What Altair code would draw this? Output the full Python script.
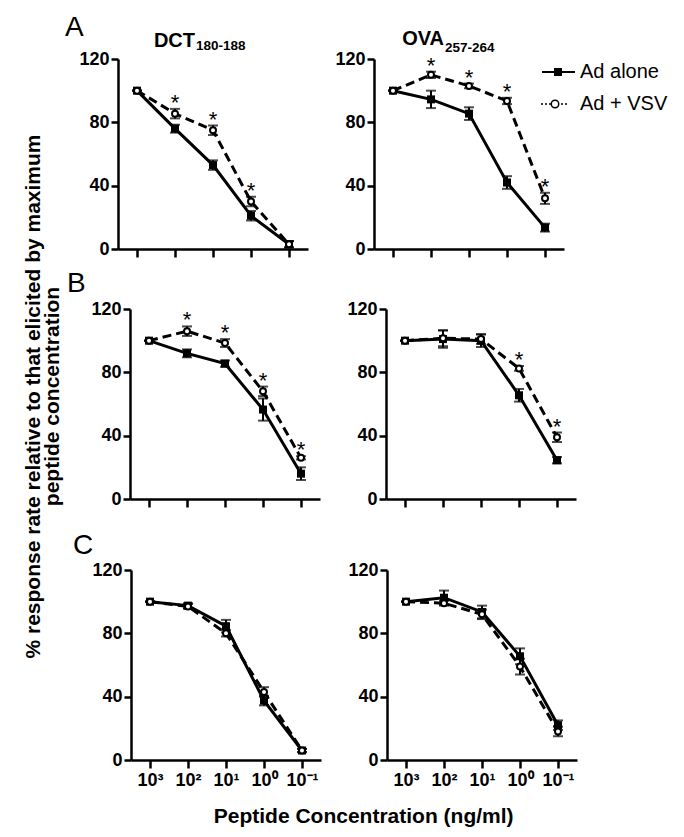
import json
import altair as alt
import pandas as pd

# ---------------- data ----------------
x_labels = ["10³", "10²", "10¹", "10⁰", "10⁻¹"]
x_index = [0, 1, 2, 3, 4]
series_names = ["Ad alone", "Ad + VSV"]

a_dct_alone = [100, 76, 53, 21, 3]
a_dct_alone_err = [0, 2.5, 3, 3, 2]
a_dct_vsv = [100, 85.5, 75, 30, 3]
a_dct_vsv_err = [0, 3, 3, 3, 2]
a_dct_star = [0, 1, 1, 1, 0]

a_ova_alone = [100, 94.5, 85.5, 42, 13.5]
a_ova_alone_err = [0, 5.5, 4, 4, 2.5]
a_ova_vsv = [100, 110, 103, 93.5, 32]
a_ova_vsv_err = [0, 2, 1.5, 2, 3.5]
a_ova_star = [0, 1, 1, 1, 1]

b_dct_alone = [100, 92, 85.5, 56.5, 16]
b_dct_alone_err = [0, 2.5, 2, 7, 4]
b_dct_vsv = [100, 106, 98.5, 68, 26]
b_dct_vsv_err = [0, 3, 2.5, 3, 1]
b_dct_star = [0, 1, 1, 1, 1]

b_ova_alone = [100, 101, 100, 65.5, 24.5]
b_ova_alone_err = [0, 5.5, 4, 4, 2]
b_ova_vsv = [100, 101.5, 101, 82.5, 39]
b_ova_vsv_err = [0, 5, 3, 1.5, 3]
b_ova_star = [0, 0, 0, 1, 1]

c_dct_alone = [100, 97.5, 84.5, 37.5, 6]
c_dct_alone_err = [0, 1.5, 4, 3, 1]
c_dct_vsv = [100, 97, 80, 43, 6]
c_dct_vsv_err = [0, 1.5, 2, 3, 1]
c_dct_star = [0, 0, 0, 0, 0]

c_ova_alone = [100, 102.5, 93.5, 65.5, 22]
c_ova_alone_err = [0, 4.5, 4, 5, 3]
c_ova_vsv = [100, 99, 92, 59, 18]
c_ova_vsv_err = [0, 1.5, 3, 5, 3]
c_ova_star = [0, 0, 0, 0, 0]

panel_data = {
    "A_DCT": (a_dct_alone, a_dct_alone_err, a_dct_vsv, a_dct_vsv_err, a_dct_star),
    "A_OVA": (a_ova_alone, a_ova_alone_err, a_ova_vsv, a_ova_vsv_err, a_ova_star),
    "B_DCT": (b_dct_alone, b_dct_alone_err, b_dct_vsv, b_dct_vsv_err, b_dct_star),
    "B_OVA": (b_ova_alone, b_ova_alone_err, b_ova_vsv, b_ova_vsv_err, b_ova_star),
    "C_DCT": (c_dct_alone, c_dct_alone_err, c_dct_vsv, c_dct_vsv_err, c_dct_star),
    "C_OVA": (c_ova_alone, c_ova_alone_err, c_ova_vsv, c_ova_vsv_err, c_ova_star),
}

rows = []
for key, (al, ale, vs, vse, st) in panel_data.items():
    for i in x_index:
        rows.append(dict(panel=key, series="Ad alone", x=i, y=al[i], lo=al[i] - ale[i], hi=al[i] + ale[i], star=0))
        rows.append(dict(panel=key, series="Ad + VSV", x=i, y=vs[i], lo=vs[i] - vse[i], hi=vs[i] + vse[i], star=st[i]))
df = pd.DataFrame(rows)

FONT = "Liberation Sans"
W = 190
H = 190
label_expr = json.dumps(x_labels, ensure_ascii=False) + "[datum.value]"


def panel(key, show_xlabels, letter=None, title=None, legend=False, shift=0, anchor=None):
    d = df[df.panel == key]
    base = alt.Chart(d)
    width = W + shift

    def X():
        return alt.X("x:Q", scale=alt.Scale(domain=[-0.5, 4.5], nice=False, zero=False,
                                            range=[shift, width]),
                     axis=alt.Axis(values=x_index, labels=show_xlabels, labelExpr=label_expr,
                                   title=None, tickSize=8))

    def Y(field):
        return alt.Y(f"{field}:Q", scale=alt.Scale(domain=[0, 120], nice=False),
                     axis=alt.Axis(values=[0, 40, 80, 120], title=None, tickSize=7, offset=-shift))

    alone = base.transform_filter(alt.datum.series == "Ad alone")
    vsv = base.transform_filter(alt.datum.series == "Ad + VSV")

    layers = [
        alone.mark_line(color="black", strokeWidth=3).encode(x=X(), y=Y("y")),
        vsv.mark_line(color="black", strokeWidth=3, strokeDash=[9, 5]).encode(x=X(), y=Y("y")),
        base.mark_rule(color="black", strokeWidth=2).encode(x=X(), y=Y("lo"), y2="hi:Q"),
        base.mark_tick(color="black", orient="horizontal", size=10, thickness=2).encode(x=X(), y=Y("hi")),
        base.mark_tick(color="black", orient="horizontal", size=10, thickness=2).encode(x=X(), y=Y("lo")),
        alone.mark_point(shape="square", filled=True, color="black", size=64, opacity=1).encode(x=X(), y=Y("y")),
        vsv.mark_point(shape="circle", filled=True, fill="white", stroke="black", strokeWidth=2,
                       size=36, opacity=1).encode(x=X(), y=Y("y")),
        vsv.transform_filter(alt.datum.star == 1).mark_text(
            text="*", fontSize=22, font=FONT, baseline="alphabetic", color="black", dy=1
        ).encode(x=X(), y=Y("hi")),
    ]

    if letter is not None:
        ltxt, lx, ly = letter
        ldf = pd.DataFrame({"t": [ltxt]})
        layers.append(alt.Chart(ldf).mark_text(align="left", baseline="alphabetic", fontSize=28,
                                               font=FONT, color="black").encode(
            text="t:N", x=alt.value(lx), y=alt.value(ly)))
        if anchor is not None:
            # invisible anchor that fixes the left edge of the figure
            layers.append(alt.Chart(ldf).mark_rule(opacity=0, strokeWidth=1).encode(
                x=alt.value(anchor), y=alt.value(0), y2=alt.value(10)))

    if title is not None:
        main, sub, xr, ym, ys = title
        tdf = pd.DataFrame({"main": [main], "sub": [sub]})
        layers.append(alt.Chart(tdf).mark_text(align="right", baseline="alphabetic", fontSize=20,
                                               fontWeight="bold", font=FONT, color="black").encode(
            text="main:N", x=alt.value(xr), y=alt.value(ym)))
        layers.append(alt.Chart(tdf).mark_text(align="left", baseline="alphabetic", fontSize=13.5,
                                               fontWeight="bold", font=FONT, color="black").encode(
            text="sub:N", x=alt.value(xr + 1), y=alt.value(ys)))

    if legend:
        l1 = pd.DataFrame({"series": [series_names[0]]})
        l2 = pd.DataFrame({"series": [series_names[1]]})
        layers += [
            alt.Chart(l1).mark_rule(color="black", strokeWidth=2).encode(
                x=alt.value(168), x2=alt.value(201), y=alt.value(13)),
            alt.Chart(l1).mark_point(shape="square", filled=True, color="black", size=64, opacity=1).encode(
                x=alt.value(184), y=alt.value(13)),
            alt.Chart(l1).mark_text(align="left", baseline="middle", fontSize=20, font=FONT,
                                    color="black").encode(text="series:N", x=alt.value(206), y=alt.value(13)),
            alt.Chart(l2).mark_rule(color="black", strokeWidth=1.5, strokeDash=[2, 2]).encode(
                x=alt.value(167), x2=alt.value(195), y=alt.value(45)),
            alt.Chart(l2).mark_point(shape="circle", filled=True, fill="white", stroke="black",
                                     strokeWidth=1.5, size=56, opacity=1).encode(
                x=alt.value(181), y=alt.value(45)),
            alt.Chart(l2).mark_text(align="left", baseline="middle", fontSize=20, font=FONT,
                                    color="black").encode(text="series:N", x=alt.value(206), y=alt.value(45)),
        ]

    return alt.layer(*layers).properties(width=width, height=H)


pA1 = panel("A_DCT", False, letter=("A", -53, -23), title=("DCT", "180-188", 77, -12, -9.5), anchor=-58)
pA2 = panel("A_OVA", False, title=("OVA", "257-264", 70, -14, -7), legend=True)
pB1 = panel("B_DCT", False, letter=("B", -51, -17), shift=12)
pB2 = panel("B_OVA", False)
pC1 = panel("C_DCT", True, letter=("C", -45, -16), shift=13)
pC2 = panel("C_OVA", True)

rowA = alt.hconcat(pA1, pA2, spacing=26)
rowB = alt.hconcat(pB1, pB2, spacing=26)
rowC = alt.hconcat(pC1, pC2, spacing=26)

topAB = alt.vconcat(rowA, rowB, spacing=11)
inner = alt.vconcat(topAB, rowC, spacing=23).properties(
    title=alt.TitleParams("Peptide Concentration (ng/ml)", orient="bottom", anchor="middle",
                          fontSize=21, fontWeight="bold", font=FONT, color="black", offset=17)
)
chart = alt.vconcat(inner).properties(
    title=alt.TitleParams(["% response rate relative to that elicited by maximum",
                           "peptide concentration"],
                          orient="left", anchor="middle", fontSize=21, fontWeight="bold",
                          font=FONT, color="black", offset=-3, lineHeight=19, dx=24),
    padding={"left": 14, "top": 6, "right": 5, "bottom": 5},
).configure_view(stroke=None).configure_axis(
    domainColor="black", domainWidth=2.5, tickColor="black", tickWidth=2.5,
    labelFont=FONT, labelFontSize=18, labelFontWeight="bold", labelColor="black",
    grid=False, labelPadding=2,
).configure_axisX(labelFontSize=18, labelPadding=3)

chart.save("out.html", embed_options={"renderer": "svg", "actions": False})
